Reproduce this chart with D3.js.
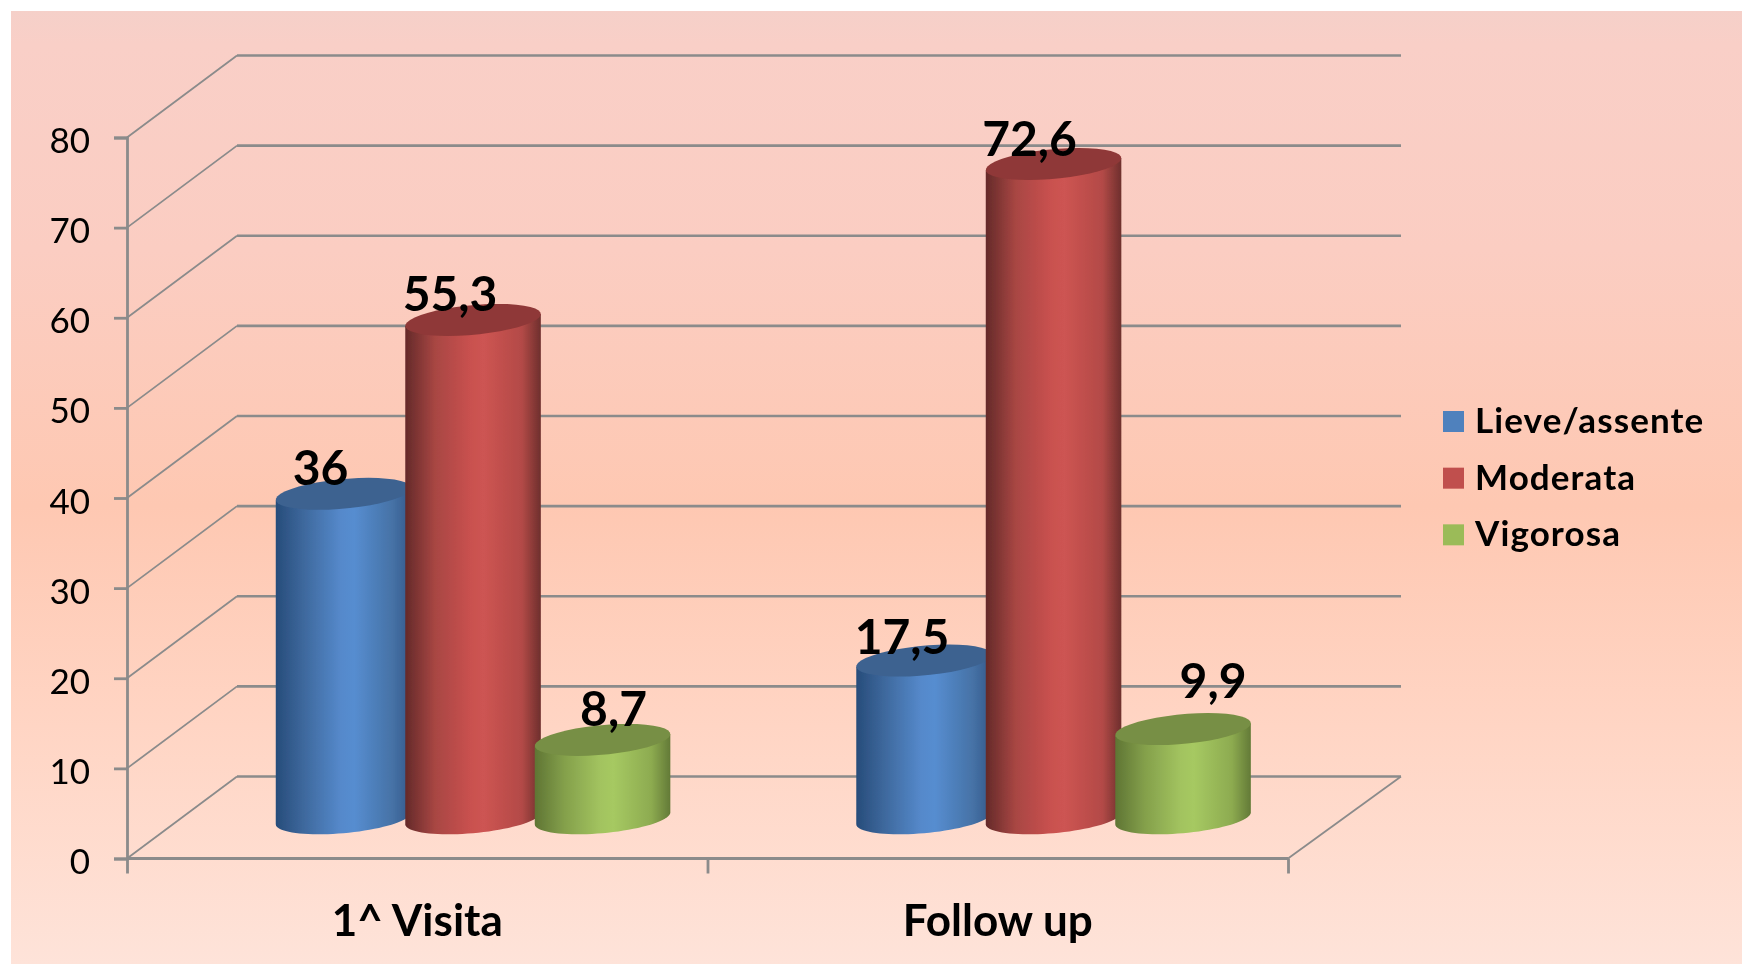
<!DOCTYPE html>
<html><head><meta charset="utf-8">
<script src="https://cdn.jsdelivr.net/npm/d3@7"></script>
<style>html,body{margin:0;padding:0;background:#fff;overflow:hidden}svg{display:block}text{font-family:Lato,"Open Sans",sans-serif;fill:#000}</style>
</head><body><svg id="c" width="1742" height="964"></svg>
<script>
const categories = ["1^ Visita", "Follow up"];
const seriesNames = ["Lieve/assente", "Moderata", "Vigorosa"];
const lieve = [36, 17.5];
const moderata = [55.3, 72.6];
const vigorosa = [8.7, 9.9];
const yTicks = [0, 10, 20, 30, 40, 50, 60, 70, 80];
const seriesValues = [lieve, moderata, vigorosa];
const palette = [
  {swatch:"#4f81bd", top:"#3d6290", stops:["#274c7a","#3f6a9f","#5589cb","#568dd0","#4672a6","#34598a"]},
  {swatch:"#c0504d", top:"#8f3837", stops:["#642a29","#a84643","#c9514f","#cd5452","#b34a47","#6e2f2d"]},
  {swatch:"#9bbb59", top:"#778f44", stops:["#5f7534","#84a04b","#a2c35f","#a6c962","#8dab50","#637a37"]}
];
// per-label nudges, [dx, dy], matching the hand-placed labels of the source
const labelNudge = [[[-23,-8],[-22,-6]],[[-23,-8],[-24,-7]],[[11,-13],[30,-30]]];

const svg = d3.select("#c");
const W = 1742, H = 964;
const m = {l:127, r:1288, t:137.5, b:858.5};
const depth = {x:110, y:82};
const wallRight = 1401;
const radius = {x:63, skewX:25, y:16};

const y = d3.scaleLinear().domain([0,80]).range([m.b,m.t]);
const x0 = d3.scaleBand().domain(categories).range([m.l,m.r]);
const boundary = d3.scaleLinear().domain([0,2]).range([m.l,m.r]);
const step = 129.5;
const x1 = d3.scaleBand().domain(seriesNames).range([-1.5*step,1.5*step]);
const groupShift = depth.x/2+0.8;

const defs = svg.append("defs");
const bg = defs.append("linearGradient").attr("id","bg").attr("x1",0).attr("x2",0).attr("y1",0).attr("y2",1);
[[0,"#f5d0c9"],[0.035,"#f9cfc7"],[0.25,"#fbcdc2"],[0.52,"#fec8b2"],[0.75,"#ffd5c4"],[1,"#fee3d9"]]
  .forEach(s=>bg.append("stop").attr("offset",s[0]).attr("stop-color",s[1]));
palette.forEach((p,i)=>{
  const g = defs.append("linearGradient").attr("id","cyl"+i);
  [0,0.22,0.48,0.58,0.86,1].forEach((o,j)=>g.append("stop").attr("offset",o).attr("stop-color",p.stops[j]));
});
defs.append("filter").attr("id","soft").attr("x",0).attr("y",0).attr("width",1).attr("height",1)
  .attr("filterUnits","objectBoundingBox")
  .append("feGaussianBlur").attr("stdDeviation",0.55);

svg.append("rect").attr("x",11).attr("y",11).attr("width",W-11).attr("height",H-11).attr("fill","url(#bg)");
const root = svg.append("g").attr("filter","url(#soft)");
root.append("rect").attr("width",W).attr("height",H).attr("fill","none");

const gridColor = "#8b8b8b";
const grid = root.append("g");
yTicks.forEach(t=>{
  const py = y(t);
  grid.append("line").attr("x1",m.l).attr("y1",py).attr("x2",m.l+depth.x).attr("y2",py-depth.y)
    .attr("stroke",gridColor).attr("stroke-width",1.8);
  grid.append("line").attr("x1",m.l+depth.x).attr("y1",py-depth.y).attr("x2",wallRight).attr("y2",py-depth.y)
    .attr("stroke",gridColor).attr("stroke-width",2.6);
});
grid.append("line").attr("x1",m.r).attr("y1",y(0)).attr("x2",wallRight).attr("y2",y(0)-depth.y)
  .attr("stroke",gridColor).attr("stroke-width",1.8);

const yAxis = root.append("g").attr("transform",`translate(${m.l},0)`)
  .call(d3.axisLeft(y).tickValues(yTicks).tickSize(13).tickPadding(24).tickFormat(d3.format("d")));
yAxis.selectAll("path,line").attr("stroke",gridColor).attr("stroke-width",2.8);
yAxis.selectAll("text").attr("font-size",35).attr("dy",15).style("font-family","Lato").attr("fill","#000");

const xTicks = root.append("g").attr("transform",`translate(0,${m.b})`)
  .call(d3.axisBottom(boundary).tickValues([0,1,2]).tickSize(15).tickFormat(""));
xTicks.selectAll("path,line").attr("stroke",gridColor).attr("stroke-width",2.8);
xTicks.select("path").attr("d",`M${m.l},0H${m.r}`);

const xLabels = root.append("g").attr("transform",`translate(0,${m.b})`)
  .call(d3.axisBottom(x0).tickSize(0).tickPadding(38));
xLabels.select("path").remove();
xLabels.selectAll("text").attr("font-size",44).attr("font-weight",700).attr("dy",0)
  .style("font-family","Lato").attr("fill","#000").attr("dominant-baseline","auto")
  .attr("y",77);

const ell = (cx,cy,t)=>[cx+radius.x*Math.cos(t)+radius.skewX*Math.sin(t), cy-radius.y*Math.sin(t)];
const tMax = Math.atan2(radius.skewX,radius.x);
const line = d3.line();
const sampled = (cx,cy,a,b)=>d3.range(0,41).map(i=>ell(cx,cy,a+(b-a)*i/40));
const centerX = (name,j)=>x0(categories[j])+x0.bandwidth()/2+groupShift+x1(name)+x1.bandwidth()/2;
const cylY = v=>y(v)-depth.y/2+0.8;

seriesValues.forEach((vals,i)=>{
  const name = seriesNames[i];
  vals.forEach((v,j)=>{
    const cx = centerX(name,j);
    const base = cylY(0), top = cylY(v);
    const lower = sampled(cx,base,tMax,tMax-Math.PI);
    const right = ell(cx,top,tMax), left = ell(cx,top,tMax-Math.PI);
    const g = root.append("g");
    g.append("path").attr("d",line([right,...lower,left])+"Z").attr("fill",`url(#cyl${i})`);
    g.append("path").attr("d",line(sampled(cx,top,0,2*Math.PI))+"Z").attr("fill",palette[i].top);
  });
});

const fmt = v=>String(v).replace(".",",");
seriesValues.forEach((vals,i)=>{
  const name = seriesNames[i];
  vals.forEach((v,j)=>{
    root.append("text").attr("x",centerX(name,j)+labelNudge[i][j][0]).attr("y",y(v)-depth.y/2+labelNudge[i][j][1])
      .attr("text-anchor","middle").attr("font-size",48).attr("font-weight",700).text(fmt(v));
  });
});

const legend = d3.scaleBand().domain(seriesNames).range([404,574]);
const lg = root.selectAll("g.lg").data(seriesNames).join("g").attr("class","lg")
  .attr("transform",d=>`translate(1443,${legend(d)})`);
lg.append("rect").attr("y",7).attr("width",21).attr("height",21).attr("fill",(d,i)=>palette[i].swatch);
lg.append("text").attr("x",32).attr("y",29).attr("font-size",35).attr("font-weight",700).attr("letter-spacing",1.1).text(d=>d);
</script></body></html>
